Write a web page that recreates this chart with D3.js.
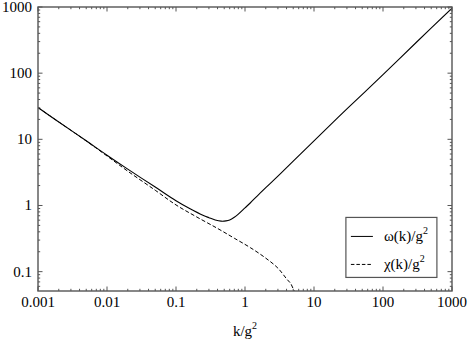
<!DOCTYPE html>
<html>
<head>
<meta charset="utf-8">
<script src="https://cdn.jsdelivr.net/npm/d3@7"></script>
<style>
  body { margin: 0; background: #fff; }
</style>
</head>
<body>
<div id="chart"></div>
<script>
// values (k/g^2 vs value/g^2)
const omegaK = [0.001, 0.002, 0.005, 0.01, 0.02, 0.05, 0.1, 0.16, 0.25, 0.3, 0.37, 0.45, 0.53, 0.6, 0.7, 0.8, 1, 1.2, 1.5, 2, 3, 5, 10, 30, 100, 300, 1000];
const omegaV = [30.2, 18.3, 9.5, 5.75, 3.54, 1.9, 1.18, 0.89, 0.705, 0.655, 0.605, 0.58, 0.585, 0.605, 0.665, 0.74, 0.92, 1.10, 1.39, 1.86, 2.78, 4.7, 9.5, 28.8, 95, 288, 960];

const chiK = [0.001, 0.002, 0.005, 0.01, 0.02, 0.05, 0.1, 0.2, 0.4, 0.7, 1.2, 2, 3, 4, 4.6, 5.0, 5.3];
const chiV = [30.2, 18.3, 9.45, 5.6, 3.3, 1.7, 1.02, 0.67, 0.45, 0.32, 0.23, 0.16, 0.113, 0.078, 0.066, 0.055, 0.048];

const xMajor = [0.001, 0.01, 0.1, 1, 10, 100, 1000];
const xTickLabels = ["0.001", "0.01", "0.1", "1", "10", "100", "1000"];
const yMajor = [0.1, 1, 10, 100, 1000];
const yTickLabels = ["0.1", "1", "10", "100", "1000"];
const legendNames = ["\u03c9(k)/g", "\u03c7(k)/g"];

const width = 470, height = 345;
const margin = {top: 7, right: 18, bottom: 54, left: 38};
const w = width - margin.left - margin.right;
const h = height - margin.top - margin.bottom;
const axisColor = "#555";

let svg = d3.select("#chart")
    .append("svg")
    .attr("width", width)
    .attr("height", height)
    .style("font-family", "'Liberation Serif'")
    .append("g")
    .attr("transform", `translate(${margin.left}, ${margin.top})`);

let x = d3.scaleLog().domain([0.001, 1000]).range([0, w]);
let y = d3.scaleLog().domain([0.051, 1000]).range([h, 0]);

// minor ticks: 2..9 times each decade
function minors(lo, hi) {
    let out = [];
    for (let e = Math.floor(Math.log10(lo)); e < Math.ceil(Math.log10(hi)); e++) {
        for (let m = 2; m <= 9; m++) {
            let v = m * Math.pow(10, e);
            if (v > lo && v < hi) out.push(v);
        }
    }
    return out;
}
const xMinor = minors(0.001, 1000);
const yMinor = minors(0.051, 1000);

svg.append("clipPath").attr("id", "clip")
    .append("rect").attr("width", w).attr("height", h);

let line = d3.line()
    .x(function(d) { return x(d[0]); })
    .y(function(d) { return y(d[1]); })
    .curve(d3.curveCatmullRom.alpha(0.5));

let curves = svg.append("g").attr("clip-path", "url(#clip)");

curves.append("path")
    .datum(d3.zip(omegaK, omegaV))
    .attr("d", line)
    .attr("fill", "none")
    .attr("stroke", "#000")
    .attr("stroke-width", 1.1);

curves.append("path")
    .datum(d3.zip(chiK, chiV))
    .attr("d", line)
    .attr("fill", "none")
    .attr("stroke", "#000")
    .attr("stroke-width", 1)
    .attr("stroke-dasharray", "4,2.2");

// ticks on all four sides, pointing inward
let ticks = svg.append("g").attr("stroke", axisColor).attr("stroke-width", 1);

function xTicks(vals, len) {
    vals.forEach(function(v) {
        ticks.append("line").attr("x1", x(v)).attr("x2", x(v)).attr("y1", h).attr("y2", h - len);
        ticks.append("line").attr("x1", x(v)).attr("x2", x(v)).attr("y1", 0).attr("y2", len);
    });
}
function yTicks(vals, len) {
    vals.forEach(function(v) {
        ticks.append("line").attr("y1", y(v)).attr("y2", y(v)).attr("x1", 0).attr("x2", len);
        ticks.append("line").attr("y1", y(v)).attr("y2", y(v)).attr("x1", w).attr("x2", w - len);
    });
}
xTicks(xMinor, 2.2);
xTicks(xMajor, 4.5);
yTicks(yMinor, 2.2);
yTicks(yMajor, 4.5);

svg.append("rect")
    .attr("width", w)
    .attr("height", h)
    .attr("fill", "none")
    .attr("stroke", axisColor)
    .attr("stroke-width", 1.4);

// tick labels
svg.append("g").selectAll("text").data(xMajor).enter()
    .append("text")
    .attr("x", function(d) { return x(d); })
    .attr("y", h + 16)
    .style("text-anchor", "middle")
    .style("font-size", "15px")
    .text(function(d, i) { return xTickLabels[i]; });

svg.append("g").selectAll("text").data(yMajor).enter()
    .append("text")
    .attr("x", -6)
    .attr("y", function(d) { return y(d); })
    .attr("dy", "0.33em")
    .style("text-anchor", "end")
    .style("font-size", "15px")
    .text(function(d, i) { return yTickLabels[i]; });

// x-axis label
let xl = svg.append("text")
    .attr("x", w / 2)
    .attr("y", h + 45)
    .style("text-anchor", "middle")
    .style("font-size", "15px");
xl.append("tspan").text("k/g");
xl.append("tspan").attr("dy", "-7").style("font-size", "10px").text("2");

// legend
let legend = svg.append("g").attr("transform", `translate(${x(31) - 2}, ${y(0.66)})`);
legend.append("rect")
    .attr("width", 91)
    .attr("height", 60)
    .attr("fill", "#fff")
    .attr("stroke", axisColor)
    .attr("stroke-width", 1.2);

legendNames.forEach(function(name, i) {
    let yy = 19 + i * 28;
    legend.append("line")
        .attr("x1", 5).attr("x2", 27)
        .attr("y1", yy).attr("y2", yy)
        .attr("stroke", "#000")
        .attr("stroke-width", 1)
        .attr("stroke-dasharray", i == 0 ? null : "3.5,2");
    let t = legend.append("text")
        .attr("x", 38)
        .attr("y", yy + 5)
        .style("font-size", "15px");
    t.append("tspan").text(name);
    t.append("tspan").attr("dy", "-7").style("font-size", "10px").text("2");
});
</script>
</body>
</html>
